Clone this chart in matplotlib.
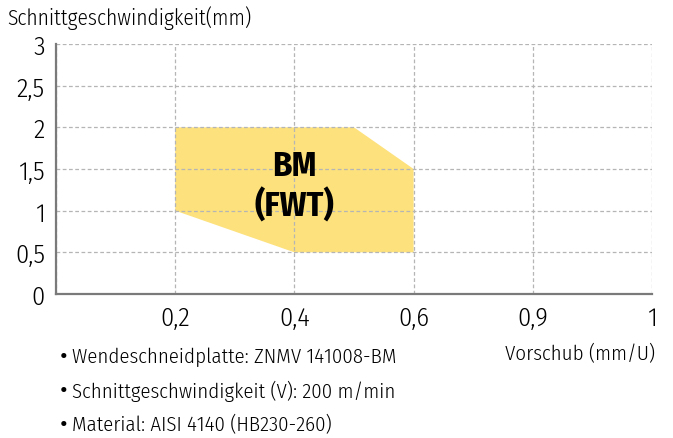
import matplotlib.pyplot as plt
from matplotlib.patches import Polygon

plt.rcParams['font.family'] = ['Fira Sans Condensed', 'DejaVu Sans']
plt.rcParams['font.weight'] = 300

# x positions are evenly spaced categories
x_labels = ['', '0,2', '0,4', '0,6', '0,9', '1']
y_ticks = [0, 0.5, 1, 1.5, 2, 2.5, 3]
y_labels = ['0', '0,5', '1', '1,5', '2', '2,5', '3']

# area vertices (x as category index, y in mm)
area_x = [1, 1, 2.5, 3, 3, 2]
area_y = [1, 2, 2, 1.5, 0.5, 0.5]

notes = ['Wendeschneidplatte: ZNMV 141008-BM',
         'Schnittgeschwindigkeit (V): 200 m/min',
         'Material: AISI 4140 (HB230-260)']

fig = plt.figure(figsize=(6.73, 4.39), dpi=100)
ax = fig.add_axes([56 / 673, 1 - 295 / 439, (652 - 56) / 673, 250 / 439])

ax.add_patch(Polygon(list(zip(area_x, area_y)), closed=True,
                     facecolor='#fde17c', edgecolor='none', zorder=1))
ax.text(2, 1.54, 'BM', ha='center', va='center', fontsize=25,
        fontweight='bold', zorder=3)
ax.text(2, 1.06, '(FWT)', ha='center', va='center', fontsize=25,
        fontweight='bold', zorder=3)

ax.set_xlim(0, 5)
ax.set_ylim(0, 3)
ax.set_xticks(range(len(x_labels)))
ax.set_xticklabels(x_labels, fontsize=19)
ax.set_yticks(y_ticks)
ax.set_yticklabels(y_labels, fontsize=19)
ax.tick_params(length=0, pad=8)
ax.grid(True, linestyle=(0, (3, 2)), color='#b5b5b5', linewidth=0.9, zorder=2)
ax.set_axisbelow(False)
for s in ['top', 'right']:
    ax.spines[s].set_visible(False)
for s in ['left', 'bottom']:
    ax.spines[s].set_color('#7a7a7a')
    ax.spines[s].set_linewidth(1.6)
    ax.spines[s].set_zorder(4)

fig.text(7 / 673, 1 - 18 / 439, 'Schnittgeschwindigkeit(mm)', fontsize=15.5,
         ha='left', va='center')
fig.text(655 / 673, 1 - 354 / 439, 'Vorschub (mm/U)', fontsize=15,
         ha='right', va='center')
for i, note in enumerate(notes):
    fig.text(59 / 673, 1 - (358 + i * 34) / 439, '\u2022', fontsize=26,
             ha='left', va='center')
    fig.text(72 / 673, 1 - (357 + i * 34) / 439, note, fontsize=15,
             ha='left', va='center')

fig.savefig('out.png', dpi=100)
